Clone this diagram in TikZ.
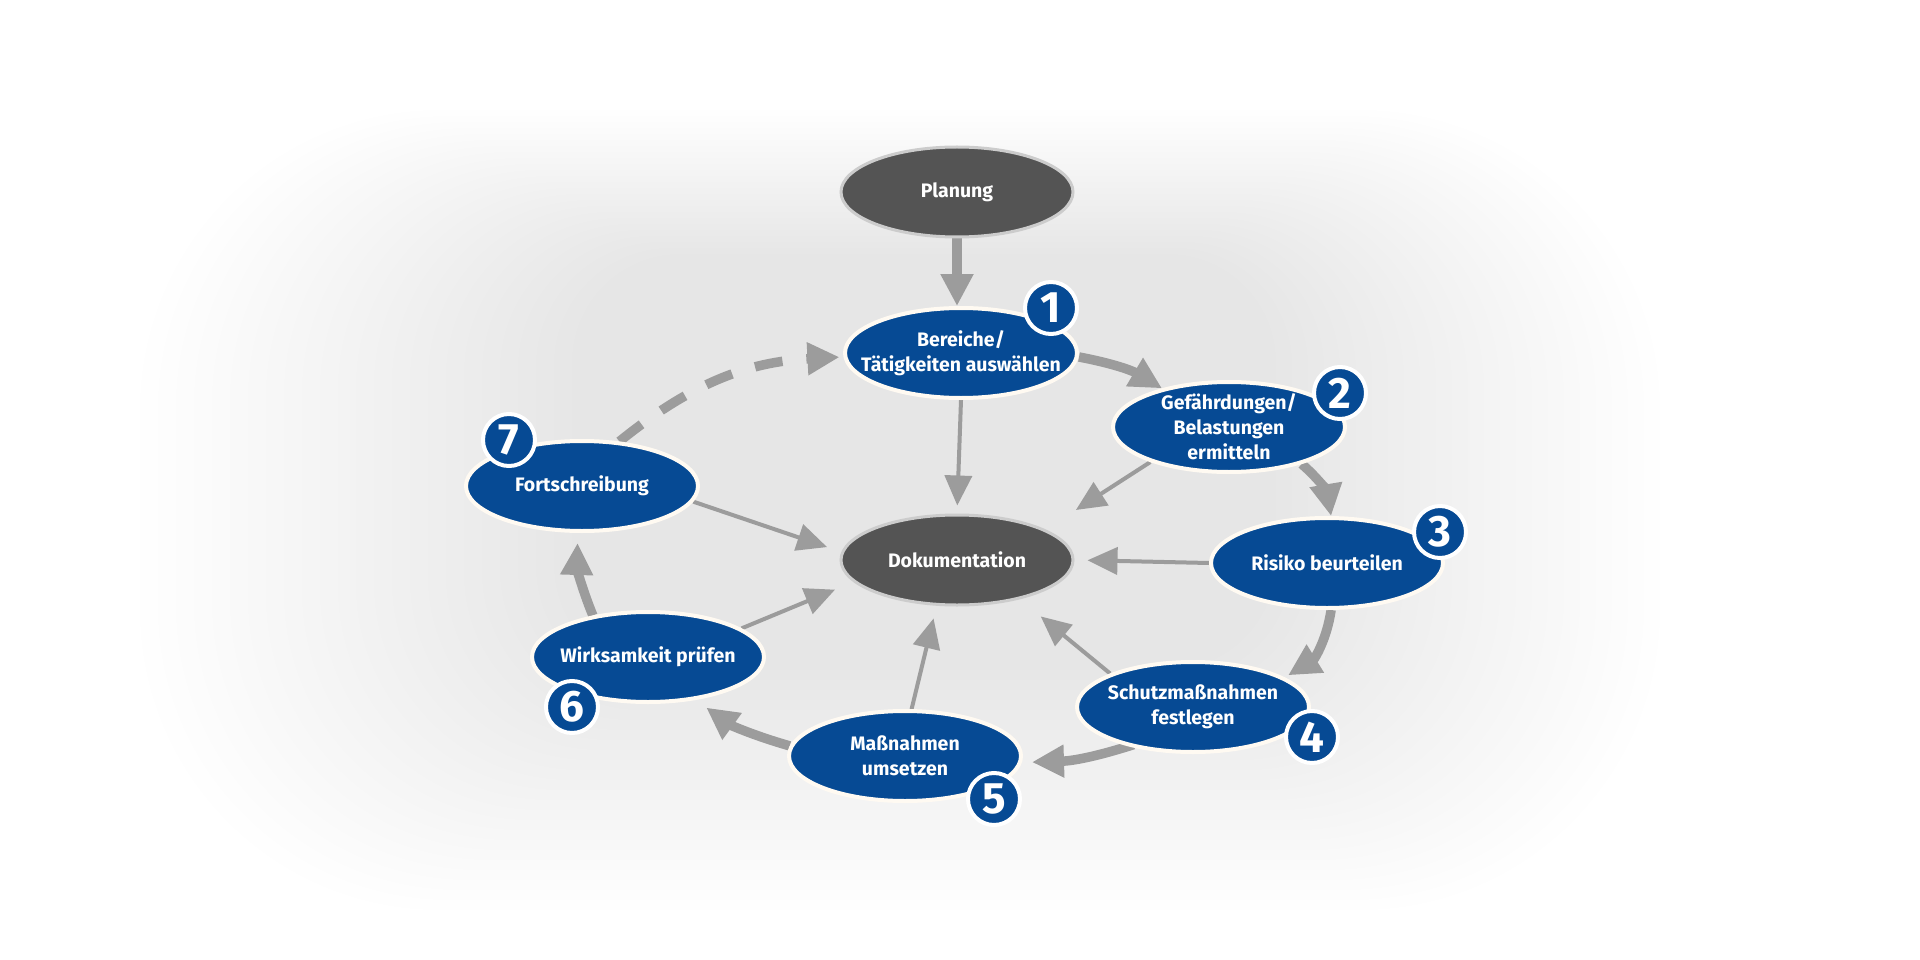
\documentclass[tikz,border=0pt]{standalone}
\usepackage{fontspec}
\setmainfont{Fira Sans}
\usetikzlibrary{arrows.meta,shapes.geometric,calc}
\definecolor{dblue}{RGB}{6,74,148}
\definecolor{dgray}{RGB}{84,84,84}
\definecolor{agray}{RGB}{156,156,156}
\definecolor{rimw}{RGB}{255,250,242}
\pgfdeclarelayer{bg}
\pgfdeclarelayer{arr}
\pgfsetlayers{bg,arr,main}
\tikzset{
  ell/.style={ellipse, minimum width=232pt, minimum height=90pt, inner sep=0pt, line width=4pt},
  blueell/.style={ell, fill=dblue, draw=rimw},
  grayell/.style={ell, fill=dgray, draw=gray!40, line width=3pt},
  txt/.style={text=white, font=\fontsize{19.5}{25}\selectfont\bfseries, align=center, inner sep=0pt},
  badge/.style={circle, fill=dblue, draw=white, line width=4pt, minimum size=52pt, inner sep=0pt, text=white, font=\fontsize{44}{44}\selectfont\bfseries},
  cyclearr/.style={draw=agray, line width=9.5pt, -{Triangle[length=32pt,width=31pt]}},
  docarr/.style={draw=agray, line width=4pt, -{Triangle[length=30pt,width=27pt]}},
}
\begin{document}
\begin{tikzpicture}[x=1pt,y=1pt]
\useasboundingbox (0,0) rectangle (1920,-960);
% ellipses
\node[grayell] (plan) at (957,-192) {};
\node[blueell] (ber)  at (961,-353) {};
\node[blueell] (gef)  at (1229,-427) {};
\node[blueell] (ris)  at (1327,-563) {};
\node[blueell] (sch)  at (1193,-707) {};
\node[blueell] (mas)  at (905,-756) {};
\node[blueell] (wir)  at (648,-657) {};
\node[blueell] (fort) at (582,-486) {};
\node[grayell] (dok)  at (957,-560) {};
% texts
\node[txt] (tplan) at (plan) {Planung};
\node[txt] (tber)  at (ber)  {Bereiche/\\Tätigkeiten auswählen};
\node[txt] (tgef)  at (gef)  {Gefährdungen/\\Belastungen\\ermitteln};
\node[txt] (tris)  at (ris)  {Risiko beurteilen};
\node[txt] (tsch)  at (sch)  {Schutzmaßnahmen\\festlegen};
\node[txt] (tmas)  at (mas)  {Maßnahmen\\umsetzen};
\node[txt] (twir)  at (wir)  {Wirksamkeit prüfen};
\node[txt] (tfort) at (fort) {Fortschreibung};
\node[txt] (tdok)  at (dok)  {Dokumentation};
% badges
\node[badge] (b1) at (1051,-308) {1};
\node[badge] (b2) at (1340,-393) {2};
\node[badge] (b3) at (1440,-532) {3};
\node[badge] (b4) at (1312,-737) {4};
\node[badge] (b5) at (994,-799) {5};
\node[badge] (b6) at (572,-707) {6};
\node[badge] (b7) at (509,-440) {7};
% background
\begin{pgfonlayer}{bg}
\fill[white] (0,0) rectangle (1920,-960);
\foreach \i in {0,...,24}{
  \fill[black, opacity=0.0036, rounded corners={300-8*\i}] ({140+18*\i},{-110-6*\i}) rectangle ({1660-16*\i},{-910+10*\i});
}
\end{pgfonlayer}
% arrows
\begin{pgfonlayer}{arr}
\draw[cyclearr] (plan.south) -- (plan.south |- ber.north);
\draw[cyclearr] ([yshift=-4pt]ber.east) to[bend left=10] (gef.150);
\draw[cyclearr] (gef.-27) to[bend left=20] (ris.85);
\draw[cyclearr] (ris.-85) to[bend left=25] ([shift={(8pt,0pt)}]sch.20);
\draw[cyclearr] ([shift={(4pt,2pt)}]sch.-148) to[bend left=8] ([shift={(10pt,0pt)}]mas.-3);
\draw[cyclearr, shorten >=13pt] (mas.175) to[bend left=10] (wir.-42);
\draw[cyclearr, shorten >=10pt] (wir.143) to[bend left=12] (fort.-95);
\draw[cyclearr, dash pattern=on 28pt off 24pt] (fort.50) to[bend left=18] ([shift={(-4pt,0pt)}]ber.182);
\draw[docarr, shorten >=8pt] (ber.south) -- (dok.north);
\draw[docarr, shorten >=36pt] (gef.-156) -- (dok.19);
\draw[docarr, shorten >=13pt] (ris.west) -- (dok.east);
\draw[docarr, shorten >=27pt] (sch.158) -- (dok.-32);
\draw[docarr, shorten >=13pt] (mas.82) -- (dok.-114);
\draw[docarr, shorten >=20pt] (wir.17.5) -- (dok.192);
\draw[docarr, shorten >=15pt] (fort.-8) -- (dok.176);
\end{pgfonlayer}
\end{tikzpicture}
\end{document}
